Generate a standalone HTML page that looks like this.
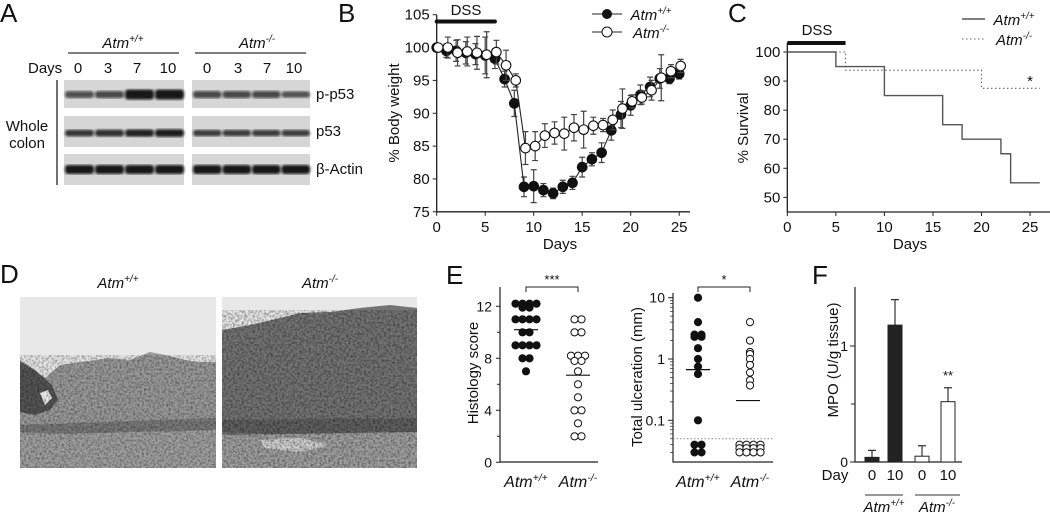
<!DOCTYPE html>
<html><head><meta charset="utf-8">
<style>
html,body{margin:0;padding:0;background:#fff;}
svg{display:block;font-family:"Liberation Sans",Arial,sans-serif;}
</style></head>
<body>
<svg id="fig" width="1050" height="513" viewBox="0 0 1050 513" xmlns="http://www.w3.org/2000/svg">
<defs>
<filter id="noise" x="0" y="0" width="100%" height="100%">
<feTurbulence type="fractalNoise" baseFrequency="0.45" numOctaves="2" seed="3" result="t"/>
<feColorMatrix type="matrix" values="0 0 0 0 0  0 0 0 0 0  0 0 0 0 0  0 0 0 -1.8 1.15" in="t" result="a"/>
<feComposite in="a" in2="SourceGraphic" operator="in"/>
</filter>
<filter id="blur1"><feGaussianBlur stdDeviation="1.3"/></filter>
</defs>

<!-- Panel A -->
<g>
<text x="0" y="22" font-size="26" fill="#111">A</text>
<text x="123" y="48" font-size="15" font-style="italic" text-anchor="middle" fill="#111">Atm<tspan font-size="10" dy="-6">+/+</tspan></text>
<line x1="68" y1="53" x2="179" y2="53" stroke="#333" stroke-width="1.2"/>
<text x="257" y="48" font-size="15" font-style="italic" text-anchor="middle" fill="#111">Atm<tspan font-size="10" dy="-6">-/-</tspan></text>
<line x1="195" y1="53" x2="306" y2="53" stroke="#333" stroke-width="1.2"/>
<text x="28" y="73" font-size="15" fill="#111">Days</text>
<g id="blotDays" font-size="15" fill="#111" text-anchor="middle"></g>
<line x1="57" y1="80" x2="57" y2="185" stroke="#222" stroke-width="1.3"/>
<text x="27" y="131" font-size="15" text-anchor="middle" fill="#111"><tspan x="27">Whole</tspan><tspan x="27" dy="17">colon</tspan></text>
<g id="blots"></g>
<text x="316" y="99" font-size="15" fill="#111">p-p53</text>
<text x="316" y="136" font-size="15" fill="#111">p53</text>
<text x="316" y="174" font-size="15" fill="#111">β-Actin</text>
</g>

<!-- Panel B -->
<g id="panelB">
<text x="338" y="22" font-size="26" fill="#111">B</text>
</g>
<!-- Panel C -->
<g id="panelC">
<text x="728" y="22" font-size="26" fill="#111">C</text>
</g>

<!-- Panel D -->
<g>
<text x="0" y="283" font-size="26" fill="#111">D</text>
<text x="118" y="288" font-size="15" font-style="italic" text-anchor="middle" fill="#111">Atm<tspan font-size="10" dy="-6">+/+</tspan></text>
<text x="320" y="288" font-size="15" font-style="italic" text-anchor="middle" fill="#111">Atm<tspan font-size="10" dy="-6">-/-</tspan></text>
<g>
<rect x="20" y="297" width="196" height="171" fill="#e8e8e8"/>
<path d="M20,360 L28,365 L45,378 L60,365 L80,362 L110,358 L130,360 L150,352 L170,356 L185,360 L200,362 L216,362 L216,468 L20,468 Z" fill="#9a9a9a"/>
<path d="M20,362 L35,370 L52,385 L58,400 L50,410 L35,415 L20,412 Z" fill="#555"/>
<path d="M40,393 L48,390 L52,398 L45,405 Z" fill="#eee"/>
<path d="M20,425 L216,418 L216,440 L20,432 Z" fill="#7a7a7a"/>
<path d="M20,435 L216,430 L216,468 L20,468 Z" fill="#a0a0a0"/>
<rect x="20" y="355" width="196" height="113" fill="#000" opacity="0.45" filter="url(#noise)"/>
</g>
<g>
<rect x="222" y="297" width="195" height="171" fill="#e8e8e8"/>
<path d="M222,330 L250,325 L280,318 L300,313 L330,312 L360,308 L390,305 L417,308 L417,468 L222,468 Z" fill="#747474"/>
<path d="M222,420 L417,418 L417,440 L222,432 Z" fill="#606060"/>
<path d="M222,435 L417,432 L417,468 L222,468 Z" fill="#a0a0a0"/>
<path d="M260,440 L300,438 L330,445 L300,452 L265,448 Z" fill="#d0d0d0"/>
<rect x="222" y="310" width="195" height="158" fill="#000" opacity="0.5" filter="url(#noise)"/>
</g>
</g>

<!-- Panel E -->
<g id="panelE">
<text x="446" y="284" font-size="26" fill="#111">E</text>
</g>
<!-- Panel F -->
<g id="panelF">
<text x="812" y="284" font-size="26" fill="#111">F</text>
</g>
</svg>

<script>
// ---------- data ----------
var blotDayLabels = ['0','3','7','10','0','3','7','10'];
var blotPP53 = [0.55,0.6,1,1,0.6,0.6,0.6,0.5];
var blotP53 = [0.75,0.8,0.9,0.95,0.7,0.7,0.7,0.7];
var blotActin = [1,1,1,1,1,1,1,1];

var bDays = [0,1,2,3,4,5,6,7,8,9,10,11,12,13,14,15,16,17,18,19,20,21,22,23,24,25];
var bWT = [100,99.5,99.5,99.2,99,98.8,98.3,95.2,91.5,78.8,78.9,78.3,77.8,78.8,79.4,81.8,83,84,87.4,89.8,91.2,92.8,94,95.3,95.3,96];
var bWTerr = [0,1,1.6,1.7,1.6,2.8,1.5,1.2,2,1.5,2.5,1,0.8,1,1,1.5,1,1.5,1.5,2,1.5,1.5,1.5,1.5,0.8,0.8];
var bKO = [100,100,99.2,99.4,99.2,98.9,99.3,97.3,95,84.7,85,86.6,87,86.9,87.8,87.5,88.1,88.2,89,90.7,91.8,92.4,93.5,95.4,96.4,97.2];
var bKOerr = [0,1.6,2,2.2,2.5,3.5,1.8,2.3,1,2.5,2.2,1.8,1.7,2.5,2,2.8,1.3,1,1.5,3,1,1,1.5,3.5,1,1];
var bYTicks = [75,80,85,90,95,100,105];
var bXTicks = [0,5,10,15,20,25];

var cWTdays = [0,5,10,16,18,22,23,26];
var cWTsurv = [100,95,85,75,70,65,55,55];
var cKOdays = [0,6,20,26];
var cKOsurv = [100,93.75,87.5,87.5];
var cYTicks = [50,60,70,80,90,100];
var cXTicks = [0,5,10,15,20,25];

var histoWT = [12.2,12.2,12.2,12.2,11.9,11.9,11,11,11,11,10,10,9,9,9,9,8,8,7];
var histoKO = [11,11,10,10,8.2,8.2,8.2,7.8,7.8,7,6,5,4,4,3,2,2];
var histoMeans = [10.2,6.7];
var histoYTicks = [0,4,8,12];

var ulcWT = [10,4,2.5,2.5,2.3,2.3,1.5,1,0.75,0.57,0.1,0.04,0.04,0.03,0.03];
var ulcKO = [4,2,1.3,1.2,1,0.8,0.6,0.45,0.37,0.04,0.04,0.04,0.04,0.035,0.035,0.035,0.035,0.03,0.03,0.03,0.03];
var ulcMeans = [0.67,0.21];
var ulcYTicks = [0.1,1,10];
var ulcLimit = 0.05;

var mpoLabels = ['0','10','0','10'];
var mpoValues = [0.04,1.18,0.05,0.52];
var mpoErr = [0.06,0.22,0.09,0.12];
var mpoYTicks = [0,1];

// ---------- helpers ----------
var NS='http://www.w3.org/2000/svg';
function mk(parent, tag, attrs){var e=document.createElementNS(NS,tag);for(var k in attrs)e.setAttribute(k,attrs[k]);parent.appendChild(e);return e;}
function txt(parent, x,y,s,attrs){var e=mk(parent,'text',Object.assign({x:x,y:y,'font-size':14,fill:'#111'},attrs||{}));e.textContent=s;return e;}
function atm(parent,x,y,sup,size){var e=mk(parent,'text',{x:x,y:y,'font-size':size||15,'font-style':'italic','text-anchor':'middle',fill:'#111'});e.textContent='Atm';var t=mk(e,'tspan',{'font-size':(size||15)*0.66,dy:-6});t.textContent=sup;return e;}

// ---------- Panel A ----------
var bd=document.getElementById('blotDays');
var dayX=[78,108,137,168,207,238,267,294];
blotDayLabels.forEach(function(s,i){var t=txt(bd,dayX[i],73,s,{'font-size':15,'text-anchor':'middle'});

});
var bl=document.getElementById('blots');
var rows=[[80,108,blotPP53,0.52],[116,147,blotP53,0.55],[154,185,blotActin,0.5]];
var rowNames=['blot-p-p53','blot-p53','blot-actin'];
rows.forEach(function(r,ri){
  [[64,184,0],[192,310,4]].forEach(function(p){
    var g=mk(bl,'g',{});
    
    
    mk(g,'rect',{x:p[0],y:r[0],width:p[1]-p[0],height:r[1]-r[0],fill:'#d6d6d6'});
    var w=(p[1]-p[0])/4;
    for(var j=0;j<4;j++){var inten=r[2][p[2]+j];var h=3+inten*7*(ri==1?0.7:1);if(ri==2)h=9;
      var cy=r[0]+(r[1]-r[0])*r[3];
      var b=mk(g,'rect',{x:p[0]+j*w+1,y:cy-h/2,width:w-1,height:h,rx:3,fill:'#111',opacity:0.35+0.6*inten,filter:'url(#blur1)'});
      
      }
  });
});

// ---------- Panel B ----------
var pB=document.getElementById('panelB');
function xB(d){return 436.7+d*9.7;}
function yB(v){return 14.7+(105-v)*6.57;}
var ax=mk(pB,'path',{d:'M'+xB(0)+','+yB(105)+' V'+yB(75)+' H690',fill:'none',stroke:'#222','stroke-width':1.3});


bYTicks.forEach(function(v){mk(pB,'line',{x1:xB(0)-4,x2:xB(0),y1:yB(v),y2:yB(v),stroke:'#222'});
 var t=txt(pB,xB(0)-7,yB(v)+5,String(v),{'text-anchor':'end','font-size':15});
 
 });
bXTicks.forEach(function(v){mk(pB,'line',{x1:xB(v),x2:xB(v),y1:yB(75),y2:yB(75)+4,stroke:'#222'});
 var t=txt(pB,xB(v),yB(75)+20,String(v),{'text-anchor':'middle','font-size':15});
 
 });
var t=txt(pB,560,249,'Days',{'text-anchor':'middle','font-size':15});


t=txt(pB,0,0,'% Body weight',{'text-anchor':'middle','font-size':15,transform:'translate(399,113) rotate(-90)'});


var dss=mk(pB,'line',{x1:xB(0),x2:xB(6),y1:21.5,y2:21.5,stroke:'#111','stroke-width':4,'stroke-linecap':'round'});


t=txt(pB,466,15,'DSS',{'text-anchor':'middle','font-size':15});


function series(vals,errs,off,filled,name){
  var g=mk(pB,'g',{});
  
  
  vals.forEach(function(v,i){var x=xB(bDays[i]+off);var e=errs[i];
    mk(g,'path',{d:'M'+x+','+yB(v+e)+'V'+yB(v-e)+'M'+(x-3)+','+yB(v+e)+'h6M'+(x-3)+','+yB(v-e)+'h6',stroke:'#444','stroke-width':1.2,fill:'none'});});
  mk(g,'polyline',{points:vals.map(function(v,i){return xB(bDays[i]+off)+','+yB(v);}).join(' '),fill:'none',stroke:'#222','stroke-width':1.1});
  vals.forEach(function(v,i){var c=mk(g,'circle',{cx:xB(bDays[i]+off),cy:yB(v),r:4.8,fill:filled?'#111':'#fff',stroke:'#111','stroke-width':1.1});
    
    });
}
series(bWT,bWTerr,0,true,'b-series-wt');
series(bKO,bKOerr,0.15,false,'b-series-ko');
var lg=mk(pB,'g',{});


mk(lg,'line',{x1:592,x2:622,y1:14,y2:14,stroke:'#222'});mk(lg,'circle',{cx:607,cy:14,r:5,fill:'#111'});
atm(lg,651,20,'+/+',15);
mk(lg,'line',{x1:592,x2:622,y1:32,y2:32,stroke:'#222'});mk(lg,'circle',{cx:607,cy:32,r:5,fill:'#fff',stroke:'#111'});
atm(lg,651,38,'-/-',15);

// ---------- Panel C ----------
var pC=document.getElementById('panelC');
function xC(d){return 787.3+d*9.71;}
function yC(v){return 52+(100-v)*2.907;}
ax=mk(pC,'path',{d:'M'+xC(0)+',43 V212 H1050',fill:'none',stroke:'#222','stroke-width':1.3});


cYTicks.forEach(function(v){mk(pC,'line',{x1:xC(0)-4,x2:xC(0),y1:yC(v),y2:yC(v),stroke:'#222'});
 var t=txt(pC,xC(0)-7,yC(v)+5,String(v),{'text-anchor':'end','font-size':15});
 
 });
cXTicks.forEach(function(v){mk(pC,'line',{x1:xC(v),x2:xC(v),y1:212,y2:216,stroke:'#222'});
 var t=txt(pC,xC(v),232,String(v),{'text-anchor':'middle','font-size':15});
 
 });
t=txt(pC,910,249,'Days',{'text-anchor':'middle','font-size':15});


t=txt(pC,0,0,'% Survival',{'text-anchor':'middle','font-size':15,transform:'translate(748,128) rotate(-90)'});


dss=mk(pC,'line',{x1:xC(0),x2:xC(6),y1:43,y2:43,stroke:'#111','stroke-width':4});


t=txt(pC,817,35,'DSS',{'text-anchor':'middle','font-size':15});


function steps(days,vals){var d='M'+xC(days[0])+','+yC(vals[0]);for(var i=1;i<days.length;i++){d+=' H'+xC(days[i])+' V'+yC(vals[i]);}return d;}
var s=mk(pC,'path',{d:steps(cKOdays,cKOsurv),fill:'none',stroke:'#666','stroke-width':1.1,'stroke-dasharray':'1.5,2.5'});


s=mk(pC,'path',{d:steps(cWTdays,cWTsurv),fill:'none',stroke:'#555','stroke-width':1.4});


t=txt(pC,1030,86,'*',{'text-anchor':'middle','font-size':15});


lg=mk(pC,'g',{});


mk(lg,'line',{x1:962,x2:985,y1:19,y2:19,stroke:'#333','stroke-width':1.2});
atm(lg,1014,25,'+/+',15);
mk(lg,'line',{x1:962,x2:985,y1:39,y2:39,stroke:'#666','stroke-dasharray':'1.5,2.5'});
atm(lg,1014,45,'-/-',15);

// ---------- Panel E ----------
var pE=document.getElementById('panelE');
function yH(v){return 462.3-v*13;}
ax=mk(pE,'path',{d:'M500,287 V462 H598',fill:'none',stroke:'#222','stroke-width':1.2});


histoYTicks.forEach(function(v){mk(pE,'line',{x1:496,x2:500,y1:yH(v),y2:yH(v),stroke:'#222'});
 if(v+2<13.5)mk(pE,'line',{x1:497,x2:500,y1:yH(v+2),y2:yH(v+2),stroke:'#222'});
 var t=txt(pE,492,yH(v)+5,String(v),{'text-anchor':'end','font-size':14});
 
 });
t=txt(pE,0,0,'Histology score',{'text-anchor':'middle','font-size':15,transform:'translate(478,373) rotate(-90)'});


function dots(g,vals,cx,yf,filled,name){
  var counts={},seen={};vals.forEach(function(v){counts[v]=(counts[v]||0)+1;});
  vals.forEach(function(v){var n=counts[v];var k=seen[v]||0;seen[v]=k+1;var x=cx+(k-(n-1)/2)*7;
    var c=mk(g,'circle',{cx:x,cy:yf(v),r:3.6,fill:filled?'#111':'#fff',stroke:'#111','stroke-width':1});
    
    });
}
dots(pE,histoWT,526,yH,true,'e-histo-wt-point');
dots(pE,histoKO,578,yH,false,'e-histo-ko-point');
[[526,histoMeans[0]],[578,histoMeans[1]]].forEach(function(m){var l=mk(pE,'line',{x1:m[0]-12,x2:m[0]+12,y1:yH(m[1]),y2:yH(m[1]),stroke:'#111','stroke-width':1.2});
 
 });
mk(pE,'path',{d:'M526,292 V287 H578 V292',fill:'none',stroke:'#222'});
t=txt(pE,552,284,'***',{'text-anchor':'middle','font-size':13});


t=atm(pE,526,487,'+/+',16);

t=atm(pE,578,487,'-/-',16);


function yU(v){return 359-Math.log10(v)*61.3;}
ax=mk(pE,'path',{d:'M673,293 V462 H773',fill:'none',stroke:'#222','stroke-width':1.2});


ulcYTicks.forEach(function(v){mk(pE,'line',{x1:668,x2:673,y1:yU(v),y2:yU(v),stroke:'#222'});
 for(var m=2;m<10;m++){if(v*m<=12)mk(pE,'line',{x1:670,x2:673,y1:yU(v*m),y2:yU(v*m),stroke:'#222','stroke-width':0.7});}
 var t=txt(pE,665,yU(v)+5,String(v),{'text-anchor':'end','font-size':14});
 
 });
[0.03,0.04,0.05,0.06,0.07,0.08,0.09].forEach(function(v){mk(pE,'line',{x1:670,x2:673,y1:yU(v),y2:yU(v),stroke:'#222','stroke-width':0.7});});
t=txt(pE,0,0,'Total  ulceration (mm)',{'text-anchor':'middle','font-size':15,transform:'translate(642,377) rotate(-90)'});


var lim=mk(pE,'line',{x1:673,x2:773,y1:yU(ulcLimit),y2:yU(ulcLimit),stroke:'#888','stroke-dasharray':'1.5,2'});


dots(pE,ulcWT,698,yU,true,'e-ulcer-wt-point');
dots(pE,ulcKO,750,yU,false,'e-ulcer-ko-point');
[[698,ulcMeans[0]],[748,ulcMeans[1]]].forEach(function(m){var l=mk(pE,'line',{x1:m[0]-12,x2:m[0]+12,y1:yU(m[1]),y2:yU(m[1]),stroke:'#111','stroke-width':1.2});
 
 });
mk(pE,'path',{d:'M698,292 V287 H750 V292',fill:'none',stroke:'#222'});
t=txt(pE,724,284,'*',{'text-anchor':'middle','font-size':13});


t=atm(pE,698,487,'+/+',16);

t=atm(pE,750,487,'-/-',16);


// ---------- Panel F ----------
var pF=document.getElementById('panelF');
function yM(v){return 462-v*116;}
var barX=[872,895,922,948];
ax=mk(pF,'path',{d:'M855,287 V462 H962',fill:'none',stroke:'#222','stroke-width':1.2});


mpoYTicks.forEach(function(v){mk(pF,'line',{x1:850,x2:855,y1:yM(v),y2:yM(v),stroke:'#222'});
 var t=txt(pF,848,yM(v)+5,String(v),{'text-anchor':'end','font-size':14});
 
 });
mk(pF,'line',{x1:851,x2:855,y1:yM(0.5),y2:yM(0.5),stroke:'#222'});
t=txt(pF,0,0,'MPO (U/g tissue)',{'text-anchor':'middle','font-size':15,transform:'translate(838,360) rotate(-90)'});


mpoValues.forEach(function(v,i){var x=barX[i];var e=mpoErr[i];
 mk(pF,'path',{d:'M'+x+','+yM(v)+'V'+yM(v+e)+'M'+(x-4)+','+yM(v+e)+'h8',stroke:'#333',fill:'none','stroke-width':1.2});
 var r=mk(pF,'rect',{x:x-7,y:yM(v),width:14,height:yM(0)-yM(v),fill:i<2?'#222':'#fff',stroke:'#222','stroke-width':1});
 
 
 var t=txt(pF,x,480,mpoLabels[i],{'text-anchor':'middle','font-size':15});
 
 });
t=txt(pF,835,480,'Day',{'text-anchor':'middle','font-size':15});


t=txt(pF,948,380,'**',{'text-anchor':'middle','font-size':13});


mk(pF,'line',{x1:865,x2:903,y1:495,y2:495,stroke:'#333'});
mk(pF,'line',{x1:915,x2:960,y1:495,y2:495,stroke:'#333'});
t=atm(pF,884,512,'+/+',15);

t=atm(pF,937,512,'-/-',15);

</script>
</body></html>
